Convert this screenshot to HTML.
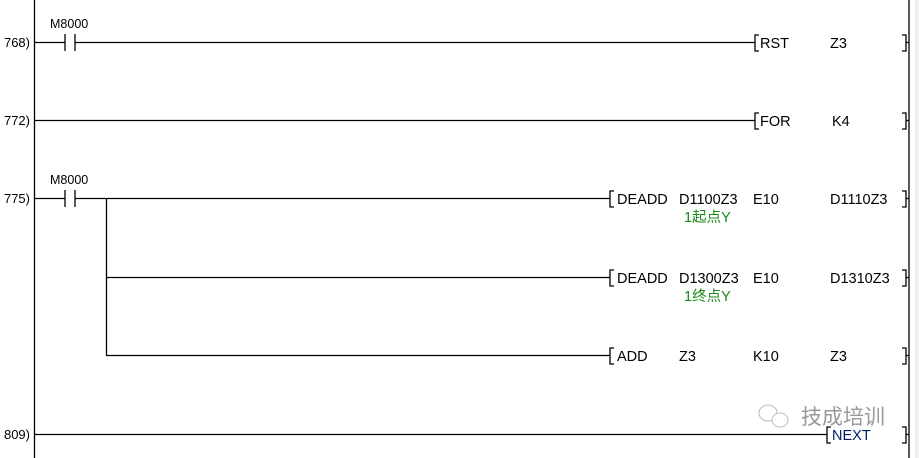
<!DOCTYPE html>
<html><head><meta charset="utf-8"><style>
html,body{margin:0;padding:0;background:#fff;}
svg{display:block;}
text{font-family:"Liberation Sans","Noto Sans CJK SC",sans-serif;font-size:14.5px;fill:#000;}
.g{fill:#1a8a1a;}
</style></head><body>
<svg width="919" height="458" viewBox="0 0 919 458" xmlns="http://www.w3.org/2000/svg">
<rect x="0" y="0" width="919" height="458" fill="#fff"/>
<rect x="915" y="0" width="4" height="458" fill="#f0f0f0"/>
<g stroke="#000" stroke-width="1.3" fill="none">
<line x1="34.5" y1="0" x2="34.5" y2="458"/>
<line x1="909" y1="0" x2="909" y2="458"/>
<line x1="35" y1="42.5" x2="65" y2="42.5"/>
<line x1="65" y1="34" x2="65" y2="51"/>
<line x1="75" y1="34" x2="75" y2="51"/>
<line x1="75" y1="42.5" x2="755" y2="42.5"/>
<path d="M759 35 H755 V51 H759"/>
<path d="M902 35 H906 V51 H902"/><line x1="906" y1="42.5" x2="909" y2="42.5"/>
<line x1="35" y1="120.5" x2="755" y2="120.5"/>
<path d="M759 113 H755 V129 H759"/>
<path d="M902 113 H906 V129 H902"/><line x1="906" y1="120.5" x2="909" y2="120.5"/>
<line x1="35" y1="198.5" x2="65" y2="198.5"/>
<line x1="65" y1="190" x2="65" y2="207"/>
<line x1="75" y1="190" x2="75" y2="207"/>
<line x1="75" y1="198.5" x2="610" y2="198.5"/>
<line x1="106.5" y1="198" x2="106.5" y2="355"/>
<path d="M614 191 H610 V207 H614"/>
<path d="M902 191 H906 V207 H902"/><line x1="906" y1="198.5" x2="909" y2="198.5"/>
<line x1="106" y1="277.5" x2="610" y2="277.5"/>
<path d="M614 270 H610 V286 H614"/>
<path d="M902 270 H906 V286 H902"/><line x1="906" y1="277.5" x2="909" y2="277.5"/>
<line x1="106" y1="355.5" x2="610" y2="355.5"/>
<path d="M614 348 H610 V364 H614"/>
<path d="M902 348 H906 V364 H902"/><line x1="906" y1="355.5" x2="909" y2="355.5"/>
<line x1="35" y1="434.5" x2="827" y2="434.5"/>
<path d="M831 427 H827 V443 H831"/>
<path d="M902 427 H906 V443 H902"/><line x1="906" y1="434.5" x2="909" y2="434.5"/>
</g>
<text x="30" y="47" text-anchor="end" style="font-size:13px">768)</text>
<text x="30" y="125" text-anchor="end" style="font-size:13px">772)</text>
<text x="30" y="203" text-anchor="end" style="font-size:13px">775)</text>
<text x="30" y="439" text-anchor="end" style="font-size:13px">809)</text>
<text x="50" y="28" style="font-size:12.5px">M8000</text>
<text x="50" y="184" style="font-size:12.5px">M8000</text>
<text x="760" y="48">RST</text><text x="830" y="48">Z3</text>
<text x="760" y="126">FOR</text><text x="832" y="126">K4</text>
<text x="617" y="204">DEADD</text><text x="679" y="204">D1100Z3</text><text x="753" y="204">E10</text><text x="830" y="204">D1110Z3</text>
<text x="684" y="222" class="g">1起点Y</text>
<text x="617" y="283">DEADD</text><text x="679" y="283">D1300Z3</text><text x="753" y="283">E10</text><text x="830" y="283">D1310Z3</text>
<text x="684" y="301" class="g">1终点Y</text>
<text x="617" y="361">ADD</text><text x="679" y="361">Z3</text><text x="753" y="361">K10</text><text x="830" y="361">Z3</text>
<text x="832" y="440" style="fill:#001a66">NEXT</text>
<g fill="none" stroke="#bbb" stroke-width="1">
<ellipse cx="768" cy="413" rx="9" ry="8"/>
<ellipse cx="780" cy="420" rx="8" ry="7" fill="#fff"/>
</g>
<text x="801" y="424" style="font-size:21px;fill:#999">技成培训</text>
</svg>
</body></html>
